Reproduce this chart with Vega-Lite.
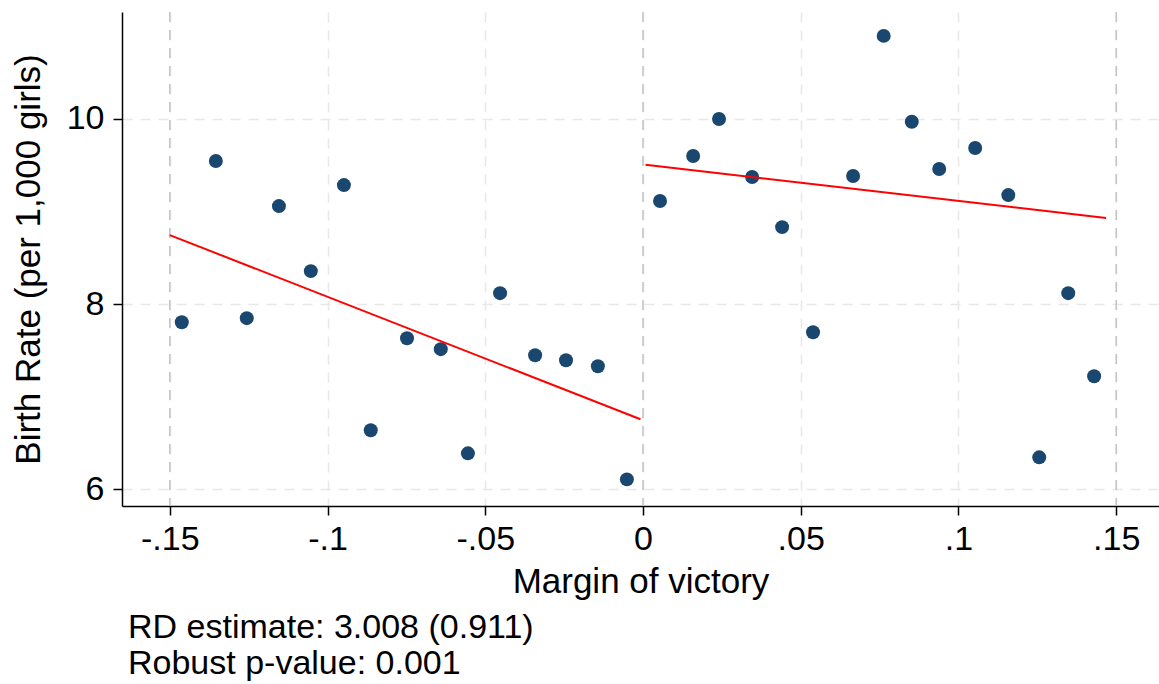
{
  "$schema": "https://vega.github.io/schema/vega-lite/v6.json",
  "width": 1037,
  "height": 494,
  "autosize": "none",
  "padding": {"left": 122, "top": 12, "right": 0, "bottom": 178},
  "background": "white",
  "config": {
    "view": {"stroke": null},
    "font": "Liberation Sans",
    "axis": {
      "domainColor": "black", "domainWidth": 1.5,
      "tickColor": "black", "tickWidth": 1.5, "tickSize": 9,
      "labelFont": "Liberation Sans", "labelFontSize": 34, "labelColor": "black",
      "titleFont": "Liberation Sans", "titleFontSize": 35, "titleFontWeight": "normal", "titleColor": "black",
      "gridColor": "#e8e8e8", "gridDash": [10, 8], "gridWidth": 1.5
    }
  },
  "title": {
    "text": ["RD estimate: 3.008 (0.911)", "Robust p-value: 0.001"],
    "orient": "bottom", "anchor": "start", "frame": "group",
    "font": "Liberation Sans", "fontSize": 34, "fontWeight": "normal", "color": "black",
    "lineHeight": 36, "dx": 6, "offset": 12
  },
  "datasets": {
    "pts": [
      {"x": -0.1462, "y": 7.805}, {"x": -0.1354, "y": 9.546}, {"x": -0.1256, "y": 7.849},
      {"x": -0.1154, "y": 9.059}, {"x": -0.1053, "y": 8.357}, {"x": -0.0948, "y": 9.286},
      {"x": -0.0863, "y": 6.638}, {"x": -0.0748, "y": 7.632}, {"x": -0.0641, "y": 7.514},
      {"x": -0.0555, "y": 6.389}, {"x": -0.0453, "y": 8.119}, {"x": -0.0342, "y": 7.449},
      {"x": -0.0244, "y": 7.395}, {"x": -0.0143, "y": 7.33}, {"x": -0.0051, "y": 6.108},
      {"x": 0.0054, "y": 9.114}, {"x": 0.0159, "y": 9.6}, {"x": 0.0241, "y": 10.0},
      {"x": 0.0346, "y": 9.373}, {"x": 0.0441, "y": 8.832}, {"x": 0.0539, "y": 7.697},
      {"x": 0.0666, "y": 9.384}, {"x": 0.0763, "y": 10.897}, {"x": 0.0852, "y": 9.97},
      {"x": 0.0939, "y": 9.459}, {"x": 0.1053, "y": 9.686}, {"x": 0.1158, "y": 9.178},
      {"x": 0.1256, "y": 6.346}, {"x": 0.1348, "y": 8.119}, {"x": 0.143, "y": 7.222}
    ],
    "fit": [
      {"side": "left", "x": -0.15, "y": 8.746}, {"side": "left", "x": -0.0008, "y": 6.757},
      {"side": "right", "x": 0.0008, "y": 9.506}, {"side": "right", "x": 0.1468, "y": 8.93}
    ],
    "xl": [{"x": -0.15}, {"x": 0}, {"x": 0.15}]
  },
  "layer": [
    {
      "data": {"name": "xl"},
      "mark": {"type": "rule", "color": "#c4c4c4", "strokeWidth": 1.5, "strokeDash": [10, 8]},
      "encoding": {
        "x": {"field": "x", "type": "quantitative", "scale": {"domain": [-0.16515, 0.16357], "nice": false, "zero": false},
          "axis": {
            "values": [-0.15, -0.1, -0.05, 0, 0.05, 0.1, 0.15],
            "labelExpr": "datum.value == 0 ? '0' : (datum.value < 0 ? '-' : '') + replace(format(abs(datum.value), '.2~f'), '0.', '.')",
            "title": "Margin of victory", "labelPadding": 7, "titlePadding": 8
          }
        }
      }
    },
    {
      "data": {"name": "pts"},
      "mark": {"type": "point", "filled": true, "shape": "circle", "size": 195, "color": "#1a476f", "opacity": 1},
      "encoding": {
        "x": {"field": "x", "type": "quantitative"},
        "y": {"field": "y", "type": "quantitative", "scale": {"domain": [5.8205, 11.155], "nice": false, "zero": false},
          "axis": {"values": [6, 8, 10], "format": "d", "title": "Birth Rate (per 1,000 girls)", "labelPadding": 9, "titlePadding": 20}
        }
      }
    },
    {
      "data": {"name": "fit"},
      "mark": {"type": "line", "color": "#ff0000", "strokeWidth": 2},
      "encoding": {
        "x": {"field": "x", "type": "quantitative"},
        "y": {"field": "y", "type": "quantitative"},
        "detail": {"field": "side"}
      }
    }
  ]
}
